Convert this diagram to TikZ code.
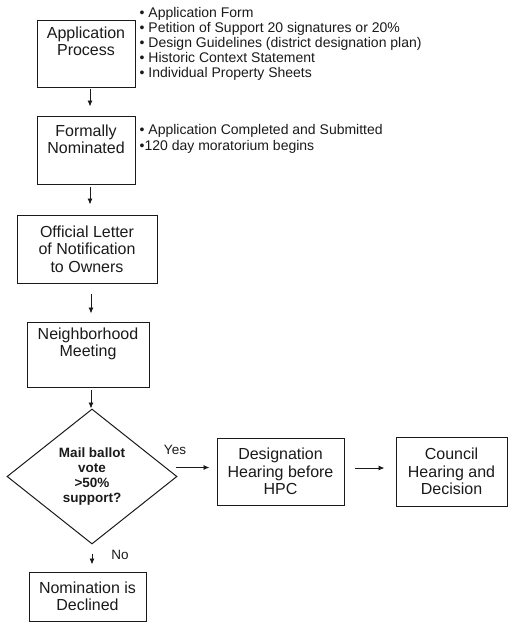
\documentclass[tikz,border=0pt]{standalone}
\usepackage{fontspec}
\setmainfont{Liberation Sans}
\usetikzlibrary{arrows.meta,shapes.geometric}
\definecolor{ink}{HTML}{1A1A1A}
\tikzset{
  box/.style={draw=ink, line width=1pt, rectangle, inner sep=0pt, align=center,
    text=ink, font=\fontsize{16}{17.5}\selectfont},
  boxlabel/.style={text=ink, align=center, anchor=north, inner sep=0pt,
    font=\fontsize{16}{17.5}\selectfont},
  arr/.style={draw=ink, line width=0.9pt, -{Latex[length=6pt,width=5pt]}},
  bullets/.style={text=ink, align=left, anchor=north west, inner sep=0pt},
  tag/.style={text=ink, font=\fontsize{13.5}{15}\selectfont, inner sep=0pt},
  decision/.style={diamond, draw=ink, line width=1pt, minimum width=170pt,
    minimum height=135pt, inner sep=0pt, align=center, text=ink,
    font=\bfseries\fontsize{13.5}{15}\selectfont}
}
\begin{document}
\begin{tikzpicture}[x=1pt,y=-1pt]
\useasboundingbox (0,0) rectangle (508,622);
% boxes
\node[box, minimum width=98pt, minimum height=67pt,
  label={[boxlabel, name=appt, yshift=-7pt]north:{Application\\Process}}] (app) at (86,53.5) {};
\node[box, minimum width=98pt, minimum height=68pt,
  label={[boxlabel, name=nomt, yshift=-9pt]north:{Formally\\Nominated}}] (nom) at (86,150) {};
\node[box, minimum width=140pt, minimum height=68pt] (letter) at (87,249)
  {Official Letter\\of Notification\\to Owners};
\node[box, minimum width=122pt, minimum height=65pt,
  label={[boxlabel, name=meett, yshift=-6pt]north:{Neighborhood\\Meeting}}] (meet) at (88,354.5) {};
\node[decision] (dia) at (92,476.5) {Mail ballot\\vote\\>50\%\\support?};
\node[box, minimum width=127pt, minimum height=67pt] (desig) at (280.5,471.5)
  {Designation\\Hearing before\\HPC};
\node[box, minimum width=111pt, minimum height=69pt] (council) at (451.5,471.5)
  {Council\\Hearing and\\Decision};
\node[box, minimum width=117pt, minimum height=49pt] (decl) at (87.5,596.5)
  {Nomination is\\Declined};
% bullet texts
\node[bullets, font=\fontsize{14}{15}\selectfont] (list1) at (139.5,7)
  {• Application Form\\• Petition of Support 20 signatures or 20\%\\• Design Guidelines (district designation plan)\\• Historic Context Statement\\• Individual Property Sheets};
\node[bullets, font=\fontsize{14}{16}\selectfont] (list2) at (139.5,124)
  {• Application Completed and Submitted\\•120 day moratorium begins};
% connectors
\draw[arr, shorten <=1pt, shorten >=9pt] ([xshift=4pt]app.south) -- ([xshift=4pt]app.south |- nom.north);
\draw[arr, shorten <=2pt, shorten >=10pt] ([xshift=4pt]nom.south) -- ([xshift=4pt]nom.south |- letter.north);
\draw[arr, shorten <=10pt, shorten >=8pt] ([xshift=4pt]letter.south) -- ([xshift=4pt]letter.south |- meet.north);
\draw[arr, shorten <=2pt] ([xshift=3pt]meet.south) -- ([xshift=3pt]meet.south |- dia.north);
\draw[arr, shorten <=-2pt, shorten >=7pt] ([yshift=9pt]dia.east) -- ([yshift=9pt]dia.east -| desig.west);
\draw[arr, shorten <=10pt, shorten >=11pt] ([yshift=3.5pt]desig.east) -- ([yshift=3.5pt]desig.east -| council.west);
\draw[arr, shorten <=9pt, shorten >=7pt] (dia.south) -- (dia.south |- decl.north);
% labels
\node[tag] (yes) at (175,450) {Yes};
\node[tag] (no) at (120,555) {No};
\end{tikzpicture}
\end{document}
